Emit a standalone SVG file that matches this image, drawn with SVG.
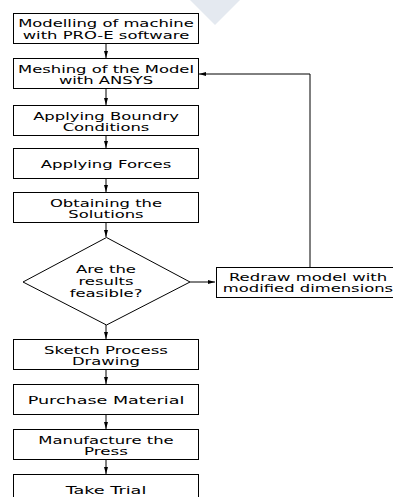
<svg xmlns="http://www.w3.org/2000/svg" width="393" height="497" viewBox="0 0 393 497">
<style>
.box{fill:#fff;stroke:#000;stroke-width:1}
.t{font-family:"DejaVu Sans","Verdana",sans-serif;font-size:10.5px;fill:#000;text-anchor:middle}
.c{fill:none;stroke:#000;stroke-width:1}
</style>
<defs>
<marker id="ah" markerWidth="8" markerHeight="6" refX="7" refY="3" orient="auto" markerUnits="userSpaceOnUse">
<path d="M0,1 L7,3 L0,5 Z" fill="#000"/>
</marker>
</defs>
<rect width="393" height="497" fill="#fff"/>
<polygon points="190,0 240,0 215,25" fill="#e4e9f0"/>
<g id="connectors">
<line class="c" x1="106" y1="43" x2="106" y2="58" marker-end="url(#ah)"/>
<line class="c" x1="106" y1="88" x2="106" y2="105" marker-end="url(#ah)"/>
<line class="c" x1="106" y1="135" x2="106" y2="148" marker-end="url(#ah)"/>
<line class="c" x1="106" y1="178" x2="106" y2="192" marker-end="url(#ah)"/>
<line class="c" x1="106" y1="223" x2="106" y2="237" marker-end="url(#ah)"/>
<line class="c" x1="106" y1="325" x2="106" y2="339" marker-end="url(#ah)"/>
<line class="c" x1="106" y1="370" x2="106" y2="384" marker-end="url(#ah)"/>
<line class="c" x1="106" y1="415" x2="106" y2="429" marker-end="url(#ah)"/>
<line class="c" x1="106" y1="460" x2="106" y2="474" marker-end="url(#ah)"/>
<line class="c" x1="190" y1="282" x2="215" y2="282" marker-end="url(#ah)"/>
<polyline class="c" points="310,267 310,74 199,74" marker-end="url(#ah)"/>
</g>
<g id="n1"><rect class="box" x="13.5" y="13.5" width="185" height="30"/>
<text class="t" x="106" y="27" textLength="175.7" lengthAdjust="spacingAndGlyphs">Modelling of machine</text>
<text class="t" x="106" y="38.5" textLength="166.6" lengthAdjust="spacingAndGlyphs">with PRO-E software</text></g>
<g id="n2"><rect class="box" x="13.5" y="58.5" width="185" height="30"/>
<text class="t" x="106" y="72.5" textLength="176" lengthAdjust="spacingAndGlyphs">Meshing of the Model</text>
<text class="t" x="106" y="84" textLength="94.2" lengthAdjust="spacingAndGlyphs">with ANSYS</text></g>
<g id="n3"><rect class="box" x="13.5" y="105.5" width="185" height="30"/>
<text class="t" x="106" y="119.5" textLength="145.7" lengthAdjust="spacingAndGlyphs">Applying Boundry</text>
<text class="t" x="106" y="131" textLength="86.7" lengthAdjust="spacingAndGlyphs">Conditions</text></g>
<g id="n4"><rect class="box" x="13.5" y="148.5" width="185" height="30"/>
<text class="t" x="106" y="167.5" textLength="130.6" lengthAdjust="spacingAndGlyphs">Applying Forces</text></g>
<g id="n5"><rect class="box" x="13.5" y="192.5" width="185" height="30"/>
<text class="t" x="106" y="206.5" textLength="112.1" lengthAdjust="spacingAndGlyphs">Obtaining the</text>
<text class="t" x="106" y="218" textLength="75.3" lengthAdjust="spacingAndGlyphs">Solutions</text></g>
<g id="n6"><polygon class="box" points="106.5,237.5 190,282 106.5,325 23,282"/>
<text class="t" x="106" y="273" textLength="60.1" lengthAdjust="spacingAndGlyphs">Are the</text>
<text class="t" x="106" y="285" textLength="55.2" lengthAdjust="spacingAndGlyphs">results</text>
<text class="t" x="106" y="296.5" textLength="72.7" lengthAdjust="spacingAndGlyphs">feasible?</text></g>
<g id="n7"><rect class="box" x="216.5" y="267.5" width="190" height="30"/>
<text class="t" x="308" y="280.5" textLength="158.2" lengthAdjust="spacingAndGlyphs">Redraw model with</text>
<text class="t" x="308" y="292" textLength="170.3" lengthAdjust="spacingAndGlyphs">modified dimensions</text></g>
<g id="n8"><rect class="box" x="13.5" y="339.5" width="185" height="30"/>
<text class="t" x="106" y="353.5" textLength="123.8" lengthAdjust="spacingAndGlyphs">Sketch Process</text>
<text class="t" x="106" y="365" textLength="68.1" lengthAdjust="spacingAndGlyphs">Drawing</text></g>
<g id="n9"><rect class="box" x="13.5" y="384.5" width="185" height="30"/>
<text class="t" x="106" y="403.5" textLength="156.6" lengthAdjust="spacingAndGlyphs">Purchase Material</text></g>
<g id="n10"><rect class="box" x="13.5" y="429.5" width="185" height="30"/>
<text class="t" x="106" y="443.5" textLength="135.5" lengthAdjust="spacingAndGlyphs">Manufacture the</text>
<text class="t" x="106" y="455" textLength="43.8" lengthAdjust="spacingAndGlyphs">Press</text></g>
<g id="n11"><rect class="box" x="13.5" y="474.5" width="185" height="30"/>
<text class="t" x="106" y="494" textLength="80.7" lengthAdjust="spacingAndGlyphs">Take Trial</text></g>
</svg>
